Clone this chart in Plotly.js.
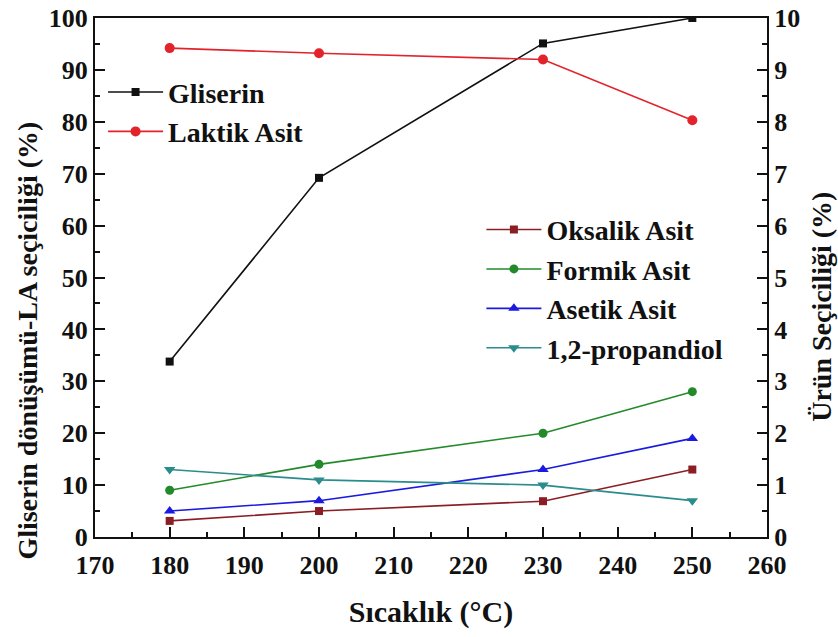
<!DOCTYPE html>
<html>
<head>
<meta charset="utf-8">
<script src="https://cdn.plot.ly/plotly-3.0.1.min.js"></script>
</head>
<body style="margin:0">
<div id="chart" style="width:838px;height:637px"></div>
<script>
// Temperatures (°C)
const temperature = [180, 200, 230, 250];

// Left axis: glycerol conversion and lactic acid selectivity (%)
const gliserin = [33.8, 69.2, 95.1, 100];
const laktikAsit = [94.2, 93.2, 92.0, 80.3];

// Right axis: by-product selectivities (%)
const oksalikAsit = [0.31, 0.50, 0.69, 1.30];
const formikAsit = [0.90, 1.40, 2.00, 2.80];
const asetikAsit = [0.50, 0.70, 1.30, 1.90];
const propandiol = [1.30, 1.10, 1.00, 0.70];

const xTicks = [170, 180, 190, 200, 210, 220, 230, 240, 250, 260];
const yLeftTicks = [0, 10, 20, 30, 40, 50, 60, 70, 80, 90, 100];
const yRightTicks = [0, 1, 2, 3, 4, 5, 6, 7, 8, 9, 10];

function f(size) {
  return { family: 'Liberation Serif', size: size, color: '#111', weight: 'bold' };
}

function series(name, y, color, symbol, size, yaxis, legend) {
  return {
    x: temperature, y: y, name: name, type: 'scatter', mode: 'lines+markers',
    yaxis: yaxis, legend: legend,
    line: { color: color, width: 1.6 },
    marker: { color: color, symbol: symbol, size: size }
  };
}

const traces = [
  series('Gliserin', gliserin, '#111111', 'square', 8, 'y', 'legend'),
  series('Laktik Asit', laktikAsit, '#e3232b', 'circle', 10, 'y', 'legend'),
  series('Oksalik Asit', oksalikAsit, '#8b1e24', 'square', 8, 'y2', 'legend2'),
  series('Formik Asit', formikAsit, '#238a2b', 'circle', 9, 'y2', 'legend2'),
  series('Asetik Asit', asetikAsit, '#1a1ae0', 'triangle-up', 10, 'y2', 'legend2'),
  series('1,2-propandiol', propandiol, '#2a8c8c', 'triangle-down', 10, 'y2', 'legend2')
];

const layout = {
  width: 838, height: 637,
  margin: { l: 95, r: 71, t: 18, b: 100 },
  paper_bgcolor: '#fff', plot_bgcolor: '#fff',
  showlegend: true,
  xaxis: {
    range: [170, 260], tickvals: xTicks, ticktext: xTicks.map(String),
    ticks: 'inside', ticklen: 10, tickwidth: 2, tickcolor: '#111',
    minor: { dtick: 5, ticks: 'inside', ticklen: 5, tickwidth: 2, tickcolor: '#111' },
    showline: true, linecolor: '#111', linewidth: 2, mirror: true,
    showgrid: false, zeroline: false, tickfont: f(26), ticklabelstandoff: 4,
    title: { text: 'Sıcaklık (°C)', font: f(30), standoff: 22 }
  },
  yaxis: {
    range: [0, 100], tickvals: yLeftTicks, ticktext: yLeftTicks.map(String),
    ticks: 'inside', ticklen: 10, tickwidth: 2, tickcolor: '#111',
    minor: { dtick: 5, ticks: 'inside', ticklen: 5, tickwidth: 2, tickcolor: '#111' },
    showline: true, linecolor: '#111', linewidth: 2,
    showgrid: false, zeroline: false, tickfont: f(26)
  },
  yaxis2: {
    range: [0, 10], overlaying: 'y', side: 'right',
    tickvals: yRightTicks, ticktext: yRightTicks.map(String),
    ticks: 'inside', ticklen: 10, tickwidth: 2, tickcolor: '#111',
    minor: { dtick: 0.5, ticks: 'inside', ticklen: 5, tickwidth: 2, tickcolor: '#111' },
    showline: true, linecolor: '#111', linewidth: 2,
    showgrid: false, zeroline: false, tickfont: f(26)
  },
  legend: {
    x: 0.012, y: 0.905, xanchor: 'left', yanchor: 'top',
    bgcolor: 'rgba(0,0,0,0)', font: f(28), tracegroupgap: 0,
    itemwidth: 55
  },
  legend2: {
    x: 0.575, y: 0.64, xanchor: 'left', yanchor: 'top',
    bgcolor: 'rgba(0,0,0,0)', font: f(28), tracegroupgap: 0,
    itemwidth: 55
  },
  annotations: [
    {
      text: 'Gliserin dönüşümü-LA seçiciliği (%)', textangle: -90,
      xref: 'paper', yref: 'paper', x: -0.1, y: 0.378,
      xanchor: 'center', yanchor: 'middle', showarrow: false,
      font: f(28)
    },
    {
      text: 'Ürün Seçiciliği (%)', textangle: -90,
      xref: 'paper', yref: 'paper', x: 1.08, y: 0.443,
      xanchor: 'center', yanchor: 'middle', showarrow: false,
      font: f(28)
    }
  ]
};

Plotly.newPlot('chart', traces, layout, { displayModeBar: false });
</script>
</body>
</html>
